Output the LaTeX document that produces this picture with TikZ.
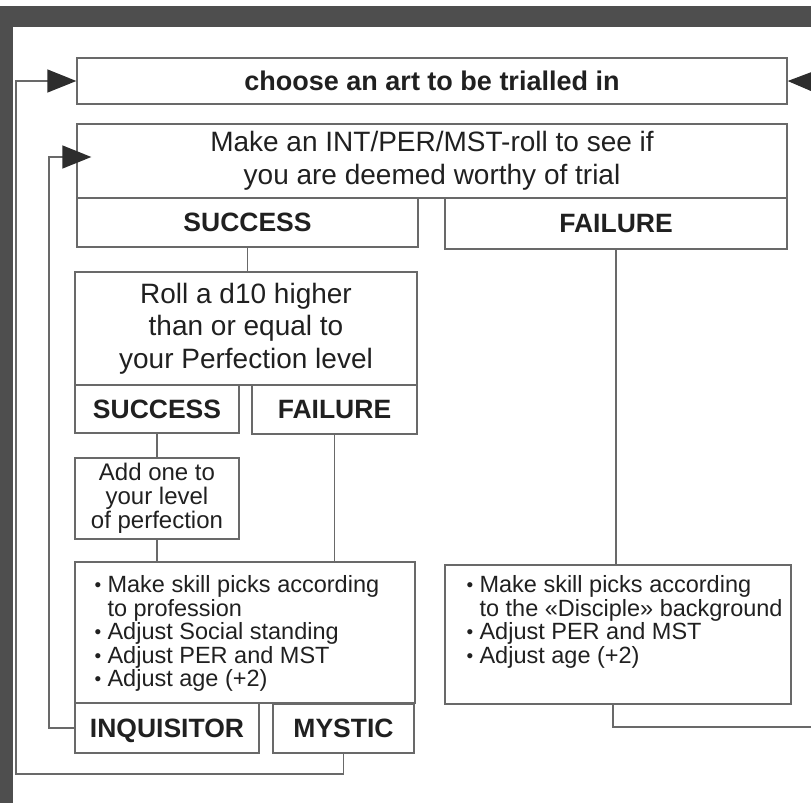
\documentclass[tikz,border=0pt]{standalone}
\usepackage{fontspec}
\setmainfont{Liberation Sans}
\usepackage{xcolor}
\usepackage{tikz}
\usetikzlibrary{arrows.meta}
\definecolor{FCLine}{RGB}{105,105,105}
\definecolor{FCText}{RGB}{32,32,32}
\definecolor{FCBand}{RGB}{78,78,78}
\definecolor{FCHead}{RGB}{45,45,45}
\newcommand{\itm}{\makebox[13pt][l]{\fontsize{19}{19}\selectfont\raisebox{1pt}{\textbullet}}}

\begin{document}
\begin{tikzpicture}[x=1pt, y=-1pt,
          box/.style={rectangle, draw=FCLine, line width=1.3pt, inner sep=0pt,
                      text=FCText, align=center},
          lbl/.style={box, text depth=0pt, font=\fontsize{26.5}{30}\selectfont\bfseries},
          txt/.style={box, font=\fontsize{28}{32.5}\selectfont},
          list/.style={inner sep=0pt, text=FCText, align=left,
                       font=\fontsize{23.5}{23.5}\selectfont},
          link/.style={draw=FCLine, line width=1.3pt},
          arr/.style={link, -{Triangle[length=29pt, width=23pt, color=FCHead]}}
        ]
        \useasboundingbox (0,0) rectangle (811,803);
        \clip (0,0) rectangle (811,803);

        % page edge
        \fill[FCBand] (0,6) rectangle (811,27);
        \fill[FCBand] (0,6) rectangle (13,803);

        \node[box, minimum width=710pt, minimum height=46pt,
              font=\fontsize{27}{30}\selectfont\bfseries] (na) at (432,81)
              {choose an art to be trialled in};
        \node[txt, minimum width=710pt, minimum height=74pt] (nb) at (432,161)
              {Make an INT/PER/MST-roll to see if\\you are deemed worthy of trial};
        \node[lbl, minimum width=341pt, minimum height=49pt] (nc) at (247.5,222.5) {SUCCESS};
        \node[lbl, minimum width=342pt, minimum height=51pt] (nd) at (616,223.5) {FAILURE};

        \node[txt, minimum width=342pt, minimum height=113pt] (ne) at (246,328.5)
              {Roll a d10 higher\\than or equal to\\your Perfection level};
        \node[lbl, minimum width=164pt, minimum height=48pt] (nf) at (157,409) {SUCCESS};
        \node[lbl, minimum width=165pt, minimum height=49pt] (ng) at (334.5,409.5) {FAILURE};
        \node[box, minimum width=164pt, minimum height=81pt,
              font=\fontsize{24}{24}\selectfont] (nh) at (157,498.5)
              {Add one to\\your level\\of perfection};

        \node[box, minimum width=340pt, minimum height=141pt] (ni) at (245,632.5) {};
        \node[list, anchor=north west] (nn) at ([xshift=20pt, yshift=-14pt]ni.north west)
              {\itm Make skill picks according\\\hspace*{13pt}to profession\\
               \itm Adjust Social standing\\\itm Adjust PER and MST\\\itm Adjust age (+2)};
        \node[lbl, minimum width=184pt, minimum height=50pt] (nj) at (167,728) {INQUISITOR};
        \node[lbl, minimum width=141pt, minimum height=49pt] (nk) at (343.5,728.5) {MYSTIC};

        \node[box, minimum width=346pt, minimum height=139pt] (nl) at (618,634.5) {};
        \node[list, anchor=north west] (nm) at ([xshift=22pt, yshift=-11pt]nl.north west)
              {\itm Make skill picks according\\\hspace*{13pt}to the «Disciple» background\\
               \itm Adjust PER and MST\\\itm Adjust age (+2)};

        \foreach \a/\b in {nc/ne, nd/nl, nf/nh, nh/ni, ng/ni} {
          \draw[link] (\a.south) -- (\a.south |- \b.north);
        }

        % way out and back in on the right
        \coordinate (rx) at (830,727);
        \coordinate (ry) at (830,82);
        \draw[link] ([xshift=-5pt]nl.south) |- (rx);
        \draw[arr] (ry) -- (na.east);

        % loops back to the top
        \coordinate (lpa) at (16,774);
        \coordinate (lpb) at (49,0);
        \draw[arr] (nk.south) |- (lpa) |- (na.west);
        \draw[arr] (nj.west) -- (nj.west -| lpb) |- ([xshift=15pt, yshift=4pt]nb.west);
      \end{tikzpicture}
\end{document}
